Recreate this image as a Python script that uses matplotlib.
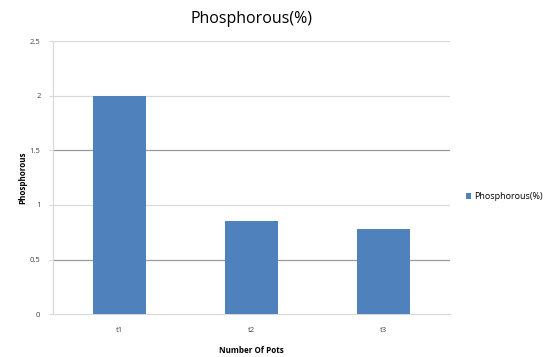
import matplotlib
matplotlib.use("Agg")
import matplotlib.pyplot as plt
import numpy as np

# pots and their phosphorous content (%)
pots = ["t1", "t2", "t3"]
phosphorous = [2.0, 0.85, 0.78]
yticks = [0, 0.5, 1, 1.5, 2, 2.5]
ytick_labels = ["0", "0.5", "1", "1.5", "2", "2.5"]

plt.rcParams['font.family'] = ['Open Sans', 'DejaVu Sans']

fig = plt.figure(figsize=(5.46, 3.57), dpi=100)
ax = fig.add_axes([0.097, 0.12, 0.727, 0.765])

x = np.arange(len(pots)) + 0.5
ax.bar(x, phosphorous, width=0.4, color="#4f81bd", label="Phosphorous(%)", zorder=3)

ax.set_xlim(0, 3)
ax.set_ylim(0, 2.5)
ax.set_yticks(yticks)
ax.set_yticklabels(ytick_labels)
ax.set_xticks(x)
ax.set_xticklabels(pots)

# horizontal gridlines, every other one a bit darker
for v in yticks[1:]:
    shade = "#9a9a9a" if v in (0.5, 1.5) else "#d9d9d9"
    ax.axhline(v, color=shade, lw=0.9, zorder=1)

for s in ["top", "right"]:
    ax.spines[s].set_visible(False)
ax.spines["left"].set_color("#d9d9d9")
ax.spines["bottom"].set_color("#d9d9d9")
ax.tick_params(axis="y", length=3, color="#d9d9d9", labelsize=5.5, labelcolor="#404040", pad=6)
ax.tick_params(axis="x", length=0, labelsize=5.5, labelcolor="#404040", pad=9)

ax.set_title("Phosphorous(%)", fontsize=11.5, pad=13)
ax.set_ylabel("Phosphorous", fontsize=5.8, fontweight="bold", labelpad=2)
ax.set_xlabel("Number Of Pots", fontsize=5.8, fontweight="bold", labelpad=9)

ax.legend(loc="center left", bbox_to_anchor=(1.02, 0.43), frameon=False,
          fontsize=6.5, handlelength=0.6, handleheight=0.6, handletextpad=0.3)

fig.savefig("out.png", dpi=100)
